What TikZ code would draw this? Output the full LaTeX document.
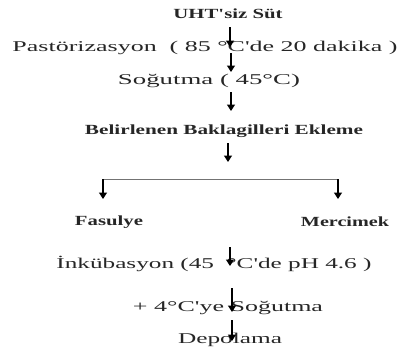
\documentclass[tikz,border=0pt]{standalone}
\usepackage{fontspec}
\setmainfont{Liberation Serif}
\usetikzlibrary{arrows.meta}
\newcommand{\fitw}[2]{\resizebox{#1bp}{\height}{#2}}
\newcommand{\ap}{\textquotesingle}
\tikzset{
  lbl/.style={inner sep=0pt, text=black!85},
  reg/.style={lbl, font=\fontsize{15}{15}\selectfont},
  bld/.style={lbl, font=\fontsize{14}{14}\selectfont\bfseries},
  arr/.style={line width=1.3pt, -{Triangle[width=8pt,length=6.5pt]}},
  brl/.style={line width=0.9pt, draw=black!55}
}
\begin{document}
\begin{tikzpicture}[x=1bp,y=-1bp]
\useasboundingbox (0,0) rectangle (400,354);
\node[bld] (t1) at (228,14) {\fitw{109}{UHT\ap siz Süt}};
\node[reg] (t2) at (205,48) {\fitw{385}{Pastörizasyon\ \ ( 85 °C\ap de 20 dakika )}};
\node[reg] (t3) at (209,81) {\fitw{182}{Soğutma ( 45°C)}};
\node[bld] (t4) at (224,131) {\fitw{278}{Belirlenen Baklagilleri Ekleme}};
\node[bld] (t5) at (109,222) {\fitw{68}{Fasulye}};
\node[bld] (t6) at (345,222) {\fitw{88}{Mercimek}};
\node[reg] (t7) at (214,264) {\fitw{315}{İnkübasyon (45 \ °C\ap de pH 4.6 )}};
\node[reg] (t8) at (228,308) {\fitw{190}{+ 4°C\ap ye Soğutma}};
\node[reg] (t9) at (230,340) {\fitw{104}{Depolama}};
% arrow end points
\coordinate (a1s) at (230,27);  \coordinate (a1e) at (230,47);
\coordinate (a2s) at (231,53);  \coordinate (a2e) at (231,72);
\coordinate (a3s) at (231,92);  \coordinate (a3e) at (231,111);
\coordinate (a4s) at (228,143); \coordinate (a4e) at (228,162);
\coordinate (bl) at (103,179);  \coordinate (br) at (338,179);
\coordinate (ble) at (103,199); \coordinate (bre) at (338,199);
\coordinate (a5s) at (230,247); \coordinate (a5e) at (230,266);
\coordinate (a6s) at (232,288); \coordinate (a6e) at (232,312);
\coordinate (a7s) at (232,320); \coordinate (a7e) at (232,341);
\draw[arr] (a1s) -- (a1e);
\draw[arr] (a2s) -- (a2e);
\draw[arr] (a3s) -- (a3e);
\draw[arr] (a4s) -- (a4e);
\draw[brl] (bl) -- (br);
\draw[arr] (bl) -- (ble);
\draw[arr] (br) -- (bre);
\draw[arr] (a5s) -- (a5e);
\draw[arr] (a6s) -- (a6e);
\draw[arr] (a7s) -- (a7e);
\end{tikzpicture}
\end{document}
